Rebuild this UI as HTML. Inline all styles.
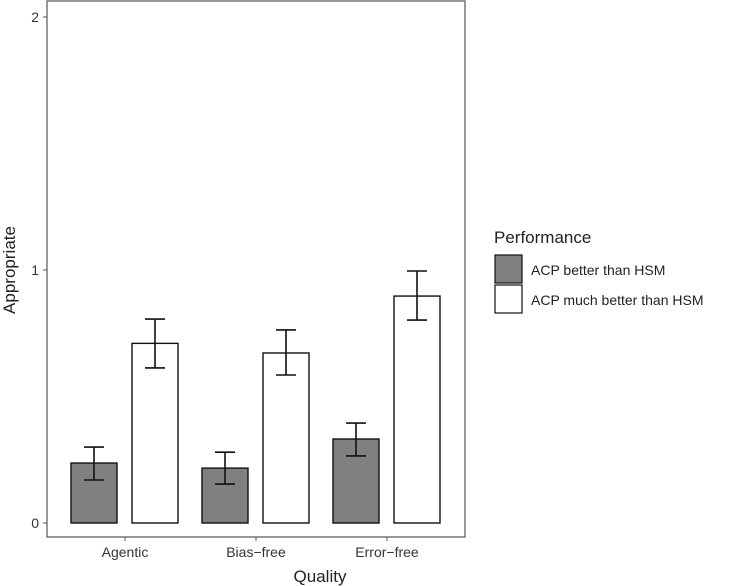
<!DOCTYPE html>
<html><head><meta charset="utf-8"><style>
body{margin:0;background:#fff;}
svg{display:block;font-family:"Liberation Sans",sans-serif;}
</style></head><body>
<svg id="chart" width="736" height="586">
<rect x="47" y="1" width="418" height="536" fill="none" stroke="#555" stroke-width="1.2"/>
<g id="marks"></g>
<text x="320" y="582" font-size="17" text-anchor="middle" fill="#222">Quality</text>
<text transform="translate(15,270) rotate(-90)" font-size="17" text-anchor="middle" fill="#222">Appropriate</text>
<text x="494" y="243" font-size="17" fill="#222">Performance</text>
<rect x="495" y="255" width="27" height="28" fill="#808080" stroke="#111" stroke-width="1.2"/>
<text x="531" y="275" font-size="14" fill="#222">ACP better than HSM</text>
<rect x="495" y="285" width="27" height="28" fill="#fff" stroke="#111" stroke-width="1.2"/>
<text x="531" y="305" font-size="14" fill="#222">ACP much better than HSM</text>
</svg>
<script>
const categories=["Agentic","Bias\u2212free","Error\u2212free"];
const betterVals=[0.237,0.217,0.332];
const betterLo=[0.17,0.154,0.265];
const betterHi=[0.30,0.28,0.395];
const muchVals=[0.71,0.672,0.897];
const muchLo=[0.613,0.585,0.802];
const muchHi=[0.806,0.763,0.996];
const yTicks=[0,1,2];
const NS="http://www.w3.org/2000/svg";
const g=document.getElementById('marks');
const y=v=>523-v*253;
const xc=i=>125+i*131;
function mk(t,a){const e=document.createElementNS(NS,t);for(const k in a)e.setAttribute(k,a[k]);g.appendChild(e);return e;}
yTicks.forEach(t=>{
 const l=mk('line',{x1:43,x2:47,y1:y(t),y2:y(t),stroke:'#555'});
 
 
 const tx=mk('text',{x:39,y:y(t)+5,'font-size':14,'text-anchor':'end',fill:'#333'});tx.textContent=t;
 
 
});
categories.forEach((c,i)=>{
 const l=mk('line',{x1:xc(i),x2:xc(i),y1:537,y2:541,stroke:'#555'});
 
 
 const tx=mk('text',{x:xc(i),y:557,'font-size':14,'text-anchor':'middle',fill:'#333'});tx.textContent=c;
 
 
 [[betterVals,betterLo,betterHi,'#808080',-31,'better'],[muchVals,muchLo,muchHi,'#fff',30,'much-better']].forEach(s=>{
  const cx=xc(i)+s[4];
  const b=mk('rect',{x:cx-23,y:y(s[0][i]),width:46,height:y(0)-y(s[0][i]),fill:s[3],stroke:'#111','stroke-width':1.4});
  
  
  const e=mk('path',{d:`M${cx-10},${y(s[2][i])}H${cx+10}M${cx},${y(s[2][i])}V${y(s[1][i])}M${cx-10},${y(s[1][i])}H${cx+10}`,stroke:'#111','stroke-width':1.6,fill:'none'});
  
  
 });
});
</script>
</body></html>
